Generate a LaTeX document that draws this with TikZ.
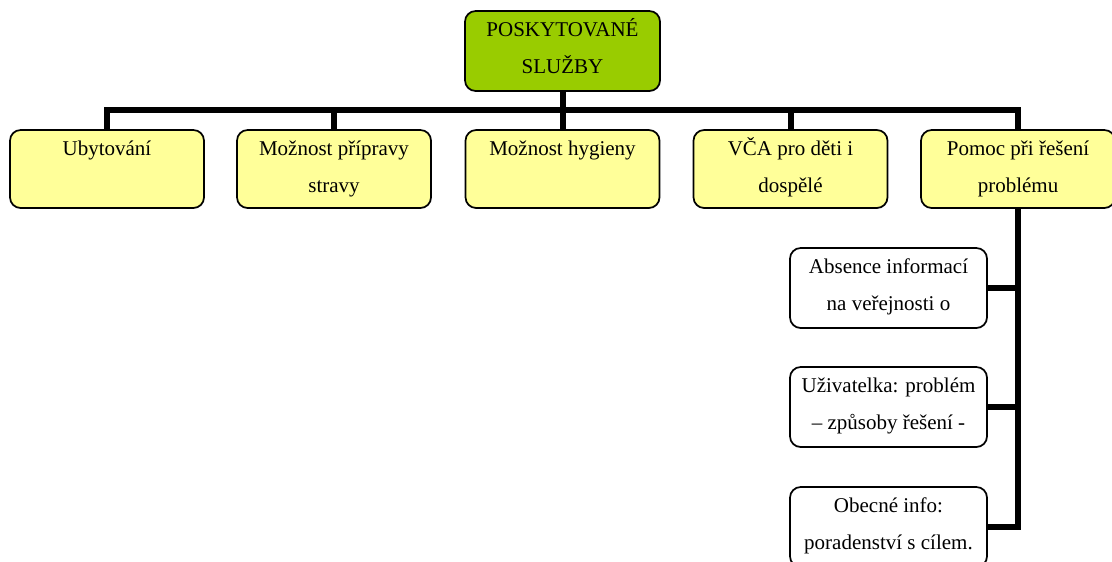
\documentclass[tikz,border=0pt]{standalone}
\usepackage{fontspec}
\setmainfont{Liberation Serif}
\usepackage{xcolor}
\definecolor{hdgreen}{RGB}{153,204,0}
\definecolor{boxyellow}{RGB}{255,255,153}

\begin{document}
\begin{tikzpicture}[x=0.75pt,y=-0.75pt,
  box/.style={draw,line width=1.3pt,rounded corners=8pt,fill=boxyellow,
    minimum width=145.5pt,inner sep=0pt,align=center,
    text height=46.5pt,text depth=12pt,
    font=\fontsize{15.75}{27.75}\selectfont},
  subbox/.style={box,fill=white,minimum width=147.75pt,text depth=13.5pt},
  bus/.style={line width=4.5pt}]
\useasboundingbox (0,0) rectangle (1112,561);
\clip (0,0) rectangle (1112,561);
% top of the tree
\node[box,fill=hdgreen,minimum width=146.25pt,text depth=13.5pt] (top) at (562.5,51) {POSKYTOVANÉ\\SLUŽBY};
\coordinate (bus) at (0,110);
% first row
\node[box] (b1) at (107,169) {Ubytování\\\mbox{}};
\node[box] (b2) at (334,169) {Možnost přípravy\\stravy};
\node[box] (b3) at (562.5,169) {Možnost hygieny\\\mbox{}};
\node[box] (b4) at (790.5,169) {VČA pro děti i\\dospělé};
\node[box] (b5) at (1018,169) {Pomoc při řešení\\problému};
% under the last box
\node[subbox] (c1) at (888.5,288) {Absence informací\\na veřejnosti o};
\node[subbox] (c2) at (888.5,407) {Uživatelka: problém\\– způsoby řešení -};
\node[subbox] (c3) at (888.5,527) {Obecné info:\\poradenství s cílem.};
% lines
\draw[bus] (top.south) -- (top.south |- bus);
\draw[bus] (b1.north) -- (b1.north |- bus) -| (b5.north);
\draw[bus] (b2.north) -- (b2.north |- bus);
\draw[bus] (b3.north) -- (b3.north |- bus);
\draw[bus] (b4.north) -- (b4.north |- bus);
\draw[bus] (b5.south) |- (c3.east);
\draw[bus] (c1.east) -- (c1.east -| b5.south);
\draw[bus] (c2.east) -- (c2.east -| b5.south);
\end{tikzpicture}
\end{document}
